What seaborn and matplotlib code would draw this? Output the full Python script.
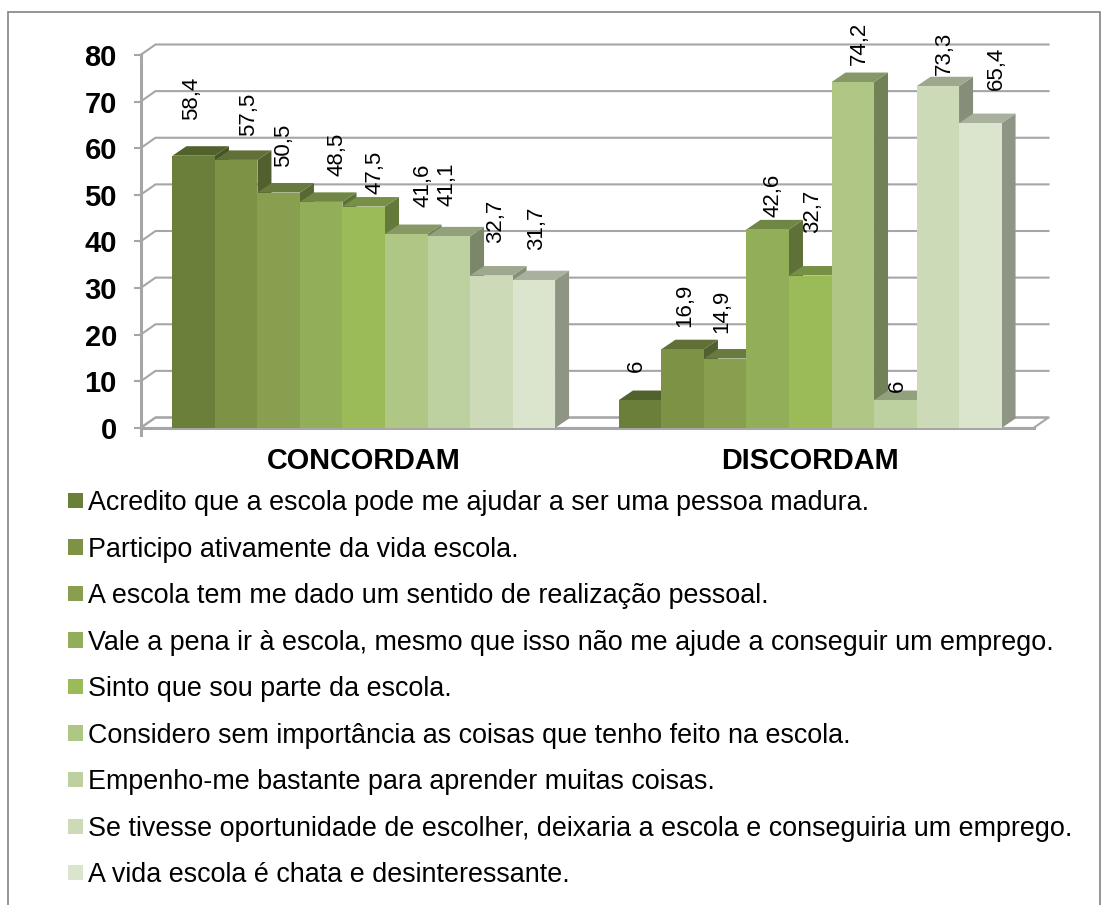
import matplotlib
matplotlib.use("Agg")
import matplotlib.pyplot as plt
from matplotlib.colors import to_rgb
from matplotlib.patches import Polygon, Rectangle
import pandas as pd
import seaborn as sns

groups = ["CONCORDAM", "DISCORDAM"]
statements = [
    "Acredito que a escola pode me ajudar a ser uma pessoa madura.",
    "Participo ativamente da vida escola.",
    "A escola tem me dado um sentido de realização pessoal.",
    "Vale a pena ir à escola, mesmo que isso não me ajude a conseguir um emprego.",
    "Sinto que sou parte da escola.",
    "Considero sem importância as coisas que tenho feito na escola.",
    "Empenho-me bastante para aprender muitas coisas.",
    "Se tivesse oportunidade de escolher, deixaria a escola e conseguiria um emprego.",
    "A vida escola é chata e desinteressante.",
]
concordam = [58.4, 57.5, 50.5, 48.5, 47.5, 41.6, 41.1, 32.7, 31.7]
discordam = [6, 16.9, 14.9, 42.6, 32.7, 74.2, 6, 73.3, 65.4]
yticks = [0, 10, 20, 30, 40, 50, 60, 70, 80]
colors = ["#6A7F3A", "#7E9246", "#889F50", "#92AE58", "#9BBB59",
          "#AFC685", "#BDD0A0", "#CDDAB8", "#DBE5CD"]

# label nudges in pixels from the top middle of each bar
label_dx = [-2.5, 12, 5, 16, 11, 17, -1.5, 4, 2.5,
            -4, 2, -3, 5, 2, 7, 2, 7, 16.5]
label_dy = [36, 24, 26, 26, 13, 27, 30, 33, 30,
            28, 22, 26, 12, 43, 17, 8, 11, 33]

plt.rcParams["font.family"] = ["Liberation Sans", "DejaVu Sans"]
plt.rcParams["figure.dpi"] = 100

df = pd.DataFrame({
    "group": [groups[0]] * 9 + [groups[1]] * 9,
    "statement": statements + statements,
    "value": concordam + discordam,
})

fig = plt.figure(figsize=(11.12, 9.05))
ax = fig.add_axes([140.5 / 1112, (905 - 428) / 905, 893 / 1112, 373 / 905])

sns.barplot(data=df, x="group", y="value", hue="statement", hue_order=statements,
            palette=colors, saturation=1, width=0.857, gap=0, linewidth=0, ax=ax)

ax.set_xlim(-0.5, 1.5)
ax.set_ylim(0, 80)
ax.set_yticks(yticks)
ax.set_xlabel("")
ax.set_ylabel("")
for s in ax.spines.values():
    s.set_visible(False)
ax.set_facecolor("none")
ax.tick_params(axis="y", length=5, width=1.5, color="#A6A6A6", pad=12, labelsize=21)
ax.tick_params(axis="x", length=0, pad=14, labelsize=20.8)
plt.setp(ax.get_yticklabels(), fontweight="bold")
plt.setp(ax.get_xticklabels(), fontweight="bold")

# fake 3d: depth of the chart in data units
px_x = 2 / 893
px_y = 80 / 373
depth_x = 15 * px_x
depth_y = 10.5 * px_y
bar_dx = 14 * px_x
bar_dy = 9.5 * px_y
grid = "#A6A6A6"

ax.add_patch(Polygon([(-0.5, 0), (1.5, 0), (1.5 + depth_x, depth_y), (-0.5 + depth_x, depth_y)],
                     closed=True, fc="white", ec=grid, lw=1.5, clip_on=False, zorder=1))
for t in yticks:
    ax.plot([-0.5, -0.5 + depth_x, 1.5 + depth_x], [t, t + depth_y, t + depth_y],
            color=grid, lw=1.5, clip_on=False, zorder=1)
ax.plot([-0.5, -0.5], [-1.5, 80], color=grid, lw=2.2, clip_on=False, zorder=1.5)
ax.plot([-0.5, 1.5], [0, 0], color=grid, lw=2.2, clip_on=False, zorder=1.5)


def shade(c, f):
    return tuple(v * f for v in to_rgb(c))


for i, cont in enumerate(ax.containers):
    for bar in cont:
        x0 = bar.get_x()
        x1 = x0 + bar.get_width()
        h = bar.get_height()
        z = 3 + i * 0.1
        bar.set_zorder(z + 0.02)
        bar.set_clip_on(False)
        ax.add_patch(Polygon([(x1, 0), (x1 + bar_dx, bar_dy), (x1 + bar_dx, h + bar_dy), (x1, h)],
                             closed=True, fc=shade(colors[i], 0.65), lw=0, clip_on=False, zorder=z))
        ax.add_patch(Polygon([(x0, h), (x1, h), (x1 + bar_dx, h + bar_dy), (x0 + bar_dx, h + bar_dy)],
                             closed=True, fc=shade(colors[i], 0.77), lw=0, clip_on=False, zorder=z + 0.01))

# data labels, concordam first then discordam
k = 0
for g in range(2):
    for cont in ax.containers:
        bar = cont[g]
        txt = f"{bar.get_height():g}".replace(".", ",")
        ax.annotate(txt, (bar.get_x() + bar.get_width() / 2, bar.get_height()),
                    xytext=(label_dx[k] * 0.72, label_dy[k] * 0.72), textcoords="offset points",
                    rotation=90, ha="center", va="bottom", fontsize=16,
                    annotation_clip=False, zorder=10)
        k += 1

sns.move_legend(ax, loc="upper left", bbox_to_anchor=((68 - 140.5) / 893, (428 - 490) / 373),
                title=None, frameon=False, fontsize=19.4, labelspacing=0.762,
                handlelength=0.56, handleheight=0.49, handletextpad=0.2,
                borderpad=0, borderaxespad=0)

# chart frame, runs off the bottom of the picture
fig.add_artist(Rectangle((7.5 / 1112, -0.02), (1100 - 7.5) / 1112, (905 - 11.5) / 905 + 0.02,
                         transform=fig.transFigure, fc="none", ec="#8C8C8C", lw=1.3))

fig.savefig("out.png", dpi=100)
